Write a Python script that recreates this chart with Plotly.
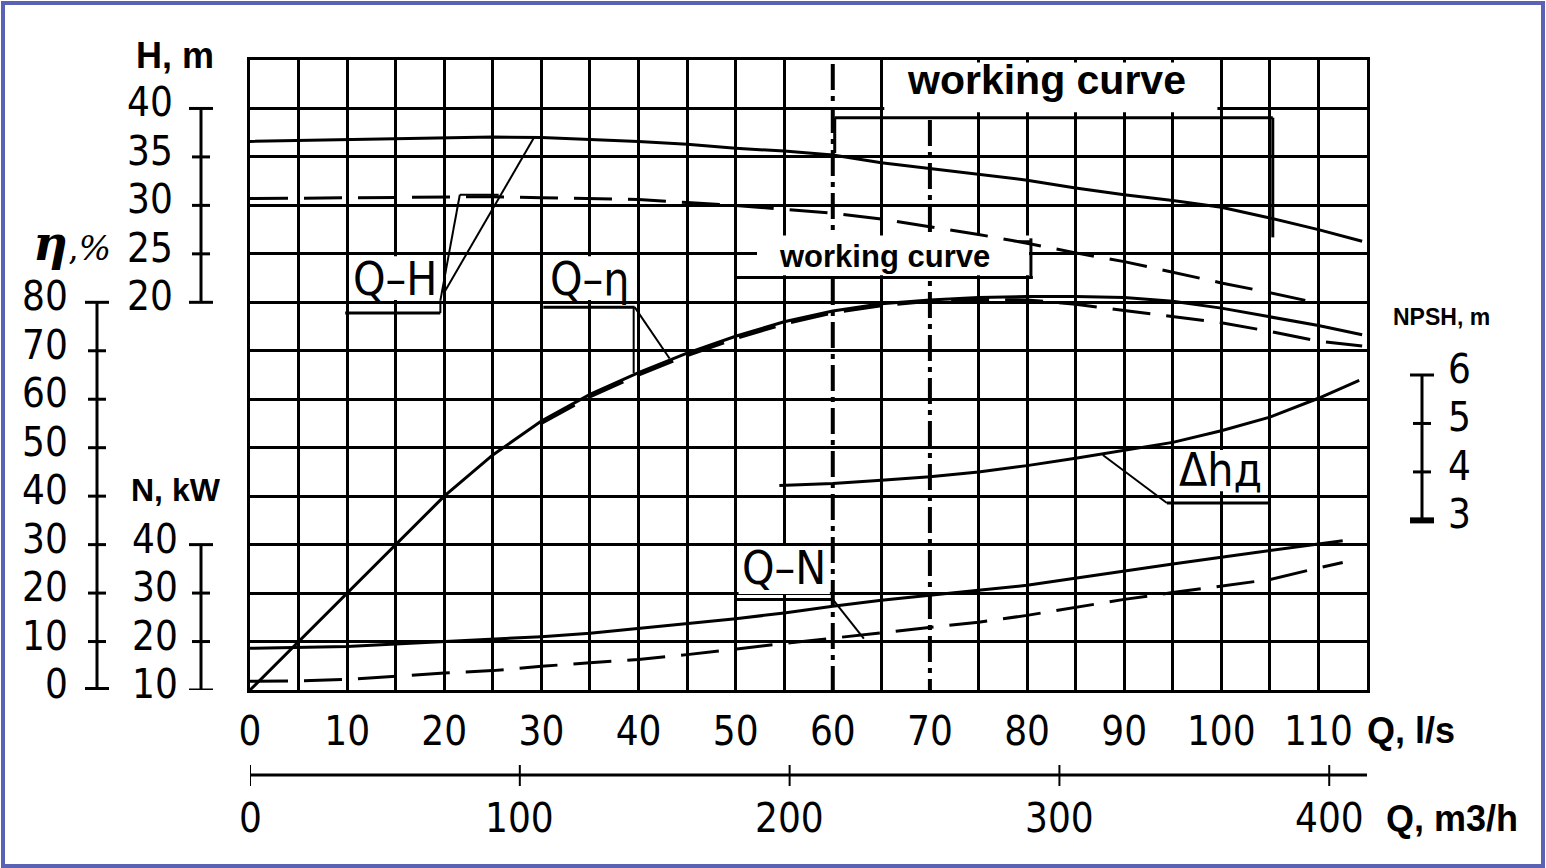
import plotly.graph_objects as go

# ---------------- data ----------------
q_labels = [0, 10, 20, 30, 40, 50, 60, 70, 80, 90, 100, 110]
q_grid = [q for q in range(0, 116, 5) if q not in (60, 70)]
q_marked = [60, 70]
m3h_labels = [0, 100, 200, 300, 400]
h_scale = [20, 25, 30, 35, 40]
eta_scale = [0, 10, 20, 30, 40, 50, 60, 70, 80]
n_scale = [10, 20, 30, 40]
npsh_scale = [3, 4, 5, 6]

q_h = [0, 5, 10, 15, 20, 25, 30, 35, 40, 45, 50, 55, 60, 65, 70, 75, 80, 85, 90, 95, 100, 105, 110, 114.5]
h_full = [36.6, 36.7, 36.8, 36.9, 37.0, 37.05, 37.0, 36.8, 36.6, 36.3, 35.9, 35.6, 35.2, 34.4, 33.8, 33.2,
          32.6, 31.8, 31.1, 30.5, 29.8, 28.7, 27.5, 26.3]

q_h_trim = [0, 5, 10, 15, 20, 25, 30, 35, 40, 45, 50, 55, 60, 65, 70, 75, 80, 85, 90, 95, 100, 105, 110]
h_trim = [30.7, 30.75, 30.8, 30.85, 30.9, 30.9, 30.8, 30.7, 30.6, 30.3, 30.0, 29.6, 29.2, 28.6, 27.8, 27.0,
          26.1, 25.1, 24.2, 23.1, 22.0, 21.0, 19.9]

q_eta = [0, 5, 10, 15, 20, 25, 30, 35, 40, 45, 50, 55, 60, 65, 70, 75, 80, 85, 90, 95, 100, 105, 110, 114.5]
eta_full = [0, 10, 20, 30, 40, 48.5, 55.5, 61, 65.5, 69.5, 73, 76, 78.2, 79.7, 80.5, 81, 81.2, 81.2, 81,
            80.2, 78.8, 77, 75.2, 73.3]

q_eta_trim = [30, 35, 40, 45, 50, 55, 60, 65, 70, 75, 80, 85, 90, 95, 100, 105, 110, 114.5]
eta_trim = [55, 60.5, 65, 69, 72.5, 75.5, 77.8, 79.3, 80.2, 80.6, 80.5, 79.6, 78.3, 77.0, 75.8, 74.0, 72.0, 71.0]

q_n = [0, 5, 10, 15, 20, 25, 30, 35, 40, 45, 50, 55, 60, 65, 70, 75, 80, 85, 90, 95, 100, 105, 110, 112.5]
n_full = [18.6, 18.8, 19.0, 19.5, 20.0, 20.4, 21.0, 21.7, 22.7, 23.6, 24.7, 25.9, 27.3, 28.5, 29.6, 30.6,
          31.6, 33.1, 34.5, 36.0, 37.4, 38.8, 40.2, 40.8]
n_trim = [11.8, 11.9, 12.2, 12.9, 13.5, 14.0, 14.9, 15.6, 16.3, 17.3, 18.5, 19.6, 20.7, 21.8, 22.9, 24.0,
          25.4, 27.0, 28.7, 30.1, 31.4, 32.8, 35.2, 36.3]

q_npsh = [54.5, 60, 65, 70, 75, 80, 85, 90, 95, 100, 105, 110, 114.2]
npsh = [3.72, 3.76, 3.83, 3.9, 4.0, 4.13, 4.28, 4.44, 4.61, 4.85, 5.13, 5.52, 5.89]

# ---------------- layout geometry ----------------
W, HT = 1546, 868
ML, MR, MT, MB = 250, 179, 60, 178
PW, PH = W - ML - MR, HT - MT - MB


def px(x):
    return (x - ML) / PW


def py(y):
    return (HT - MB - y) / PH


DRAW = "Liberation Sans Narrow, DejaVu Sans Condensed, sans-serif"
BOLD = "Liberation Sans, Arial, sans-serif"
BLACK = "black"

fig = go.Figure()
solid = dict(color=BLACK, width=3)
dashed = dict(color=BLACK, width=3, dash="38px,16px")

fig.add_trace(go.Scatter(x=q_h, y=h_full, mode="lines", line=solid, yaxis="y", hoverinfo="skip"))
fig.add_trace(go.Scatter(x=q_h_trim, y=h_trim, mode="lines", line=dashed, yaxis="y", hoverinfo="skip"))
fig.add_trace(go.Scatter(x=q_eta, y=eta_full, mode="lines", line=solid, yaxis="y2", hoverinfo="skip"))
fig.add_trace(go.Scatter(x=q_eta_trim, y=eta_trim, mode="lines", line=dashed, yaxis="y2", hoverinfo="skip"))
fig.add_trace(go.Scatter(x=q_n, y=n_full, mode="lines", line=solid, yaxis="y3", hoverinfo="skip"))
fig.add_trace(go.Scatter(x=q_n, y=n_trim, mode="lines", line=dashed, yaxis="y3", hoverinfo="skip"))
fig.add_trace(go.Scatter(x=q_npsh, y=npsh, mode="lines", line=solid, yaxis="y4", hoverinfo="skip"))

shapes = []
ann = []


def ln(x0, y0, x1, y1, xref="x", yref="y", w=3, dash=None, layer="above", color=BLACK):
    d = dict(type="line", x0=x0, y0=y0, x1=x1, y1=y1, xref=xref, yref=yref, layer=layer,
             line=dict(color=color, width=w))
    if dash:
        d["line"]["dash"] = dash
    shapes.append(d)


def box(x0, y0, x1, y1):
    # white patches that hide the grid behind labels (drawn on the main H-axis subplot)
    shapes.append(dict(type="rect", x0=x0, y0=y0, x1=x1, y1=y1, xref="x", yref="y", layer="between",
                       line=dict(width=0), fillcolor="white"))


def text(t, x, y, size, family=DRAW, xref="x", yref="y", xanchor="center", yanchor="middle", yshift=0):
    ann.append(dict(text=t, x=x, y=y, xref=xref, yref=yref, xanchor=xanchor, yanchor=yanchor,
                    showarrow=False, yshift=yshift, font=dict(family=family, size=size, color=BLACK)))


# marked vertical dash-dot lines (working range)
ln(60, 44.6, 60, -20, dash="26px,6px,5px,6px", w=4, layer="between")
ln(70, 38.8, 70, -20, dash="26px,6px,5px,6px", w=4, layer="between")

# white label boxes hiding grid
box(65.3, 39.6, 99.6, 44.75)          # top "working curve"
box(52.2, 22.8, 80.2, 26.9)           # middle "working curve"
box(10.35, 20.25, 19.65, 24.75)       # Q-H
box(30.4, 20.25, 39.6, 24.75)         # Q-eta
box(50.3, -10.1, 59.7, -5.15)         # Q-N
box(95.4, 0.5, 104.6, 4.75)           # NPSH label

# working range bracket
ln(60.2, 35.4, 60.2, 39.05)
ln(60.2, 39.05, 105.3, 39.05)
ln(105.3, 39.05, 105.3, 26.7)
text("<b>working curve</b>", 82.0, 42.9, 41, family=BOLD)

# middle working curve label
text("<b>working curve</b>", 65.3, 24.7, 31, family=BOLD)
ln(50.1, 22.55, 80.6, 22.55)
ln(80.4, 22.55, 80.4, 26.6)
ln(78.6, 26.3, 80.4, 26.3, w=2)

# Q-H label and leaders
text("Q–H", 14.9, 22.4, 46)
ln(9.8, 18.9, 19.6, 18.9)
ln(19.6, 18.9, 19.6, 20.2, w=2)
ln(19.6, 20.2, 21.6, 31.1, w=2)
ln(21.6, 31.1, 25.6, 31.1, w=2)
ln(20.1, 21.2, 29.3, 37.1, w=2)

# Q-eta label and leaders
text("Q–η", 35.0, 22.4, 46)
ln(30.2, 19.5, 39.6, 19.5)
ln(39.5, 19.5, 39.5, 12.7, w=2)
ln(39.6, 19.5, 43.2, 14.2, w=2)

# Q-N label and leader
text("Q–N", 55.0, 35.2, 46, yref="y3")
ln(50.0, 28.7, 60.0, 28.7, yref="y3")
ln(60.0, 28.7, 63.2, 20.6, yref="y3", w=2)

# NPSH label and leader
text("Δhд", 99.9, 2.7, 46)
ln(94.4, -0.7, 105.0, -0.7)
ln(94.4, -0.7, 87.8, 4.25, w=2)


# ---------------- side scales ----------------
def scale(xpix, yref, vals, lab_dx, anchor, half=9, cap=12, thick_bottom=False):
    ln(px(xpix), vals[0], px(xpix), vals[-1], xref="paper", yref=yref, w=3)
    for i, v in enumerate(vals):
        h = cap if i in (0, len(vals) - 1) else half
        w = 3
        if thick_bottom and i == 0:
            w = 6
        ln(px(xpix - h), v, px(xpix + h), v, xref="paper", yref=yref, w=w)
        text(str(v), px(xpix + lab_dx), v, 40, xref="paper", yref=yref, xanchor=anchor, yshift=6)


scale(201, "y", h_scale, -26, "right")
scale(97, "y2", eta_scale, -27, "right", thick_bottom=True)
scale(201, "y3", n_scale, -21, "right")
scale(1422, "y4", npsh_scale, 24, "left", thick_bottom=True)

text("<b>H, m</b>", px(175), py(55), 36, family=BOLD, xref="paper", yref="paper")
text("<b><i>η</i></b><span style='font-size:34px'>,<i>%</i></span>", px(72), py(243), 48,
     family="DejaVu Serif, serif", xref="paper", yref="paper")
text("<b>N, kW</b>", px(176), py(490), 32, family=BOLD, xref="paper", yref="paper")
text("<b>NPSH, m</b>", px(1441), py(317), 23, family=BOLD, xref="paper", yref="paper")
text("<b>Q, l/s</b>", px(1365), py(730), 36, family=BOLD, xref="paper", yref="paper", xanchor="left")
text("<b>Q, m3/h</b>", px(1384), py(818), 36, family=BOLD, xref="paper", yref="paper", xanchor="left")

# m3/h secondary scale drawn through the Q (l/s) axis
ln(0, py(775), 115, py(775), yref="paper", w=3)
for v in m3h_labels:
    qv = v / 3.6
    ln(qv, py(765), qv, py(786), yref="paper", w=2)
    text(str(v), qv, py(818), 40, yref="paper")

# blue outer frame
shapes.append(dict(type="rect", xref="paper", yref="paper", x0=px(3), x1=px(1543), y0=py(866), y1=py(3),
                   line=dict(color="#5a62b4", width=4), layer="above"))

fig.update_layout(
    width=W, height=HT, margin=dict(l=ML, r=MR, t=MT, b=MB),
    paper_bgcolor="white", plot_bgcolor="white", showlegend=False,
    shapes=shapes, annotations=ann,
    xaxis=dict(range=[0, 115], tickmode="array", tickvals=q_labels, ticktext=[str(v) for v in q_labels],
               showgrid=False, zeroline=False, showline=True, mirror=True, linecolor=BLACK, linewidth=3,
               ticks="", ticklabelstandoff=4, tickfont=dict(family=DRAW, size=40, color=BLACK),
               minor=dict(tickmode="array", tickvals=q_grid, showgrid=True, gridcolor=BLACK, gridwidth=3,
                          ticks="")),
    yaxis=dict(range=[-20, 45], tickmode="array", tickvals=list(range(-20, 46, 5)), showticklabels=False,
               showgrid=True, gridcolor=BLACK, gridwidth=3, zeroline=False, showline=True, mirror=True,
               linecolor=BLACK, linewidth=3, ticks=""),
    yaxis2=dict(range=[0, 130], overlaying="y", visible=False),
    yaxis3=dict(range=[10, 140], overlaying="y", visible=False),
    yaxis4=dict(range=[-0.5, 12.5], overlaying="y", visible=False),
)

fig.write_html("out.html", config={"displayModeBar": False},
               post_script="document.body.style.margin='0';")
